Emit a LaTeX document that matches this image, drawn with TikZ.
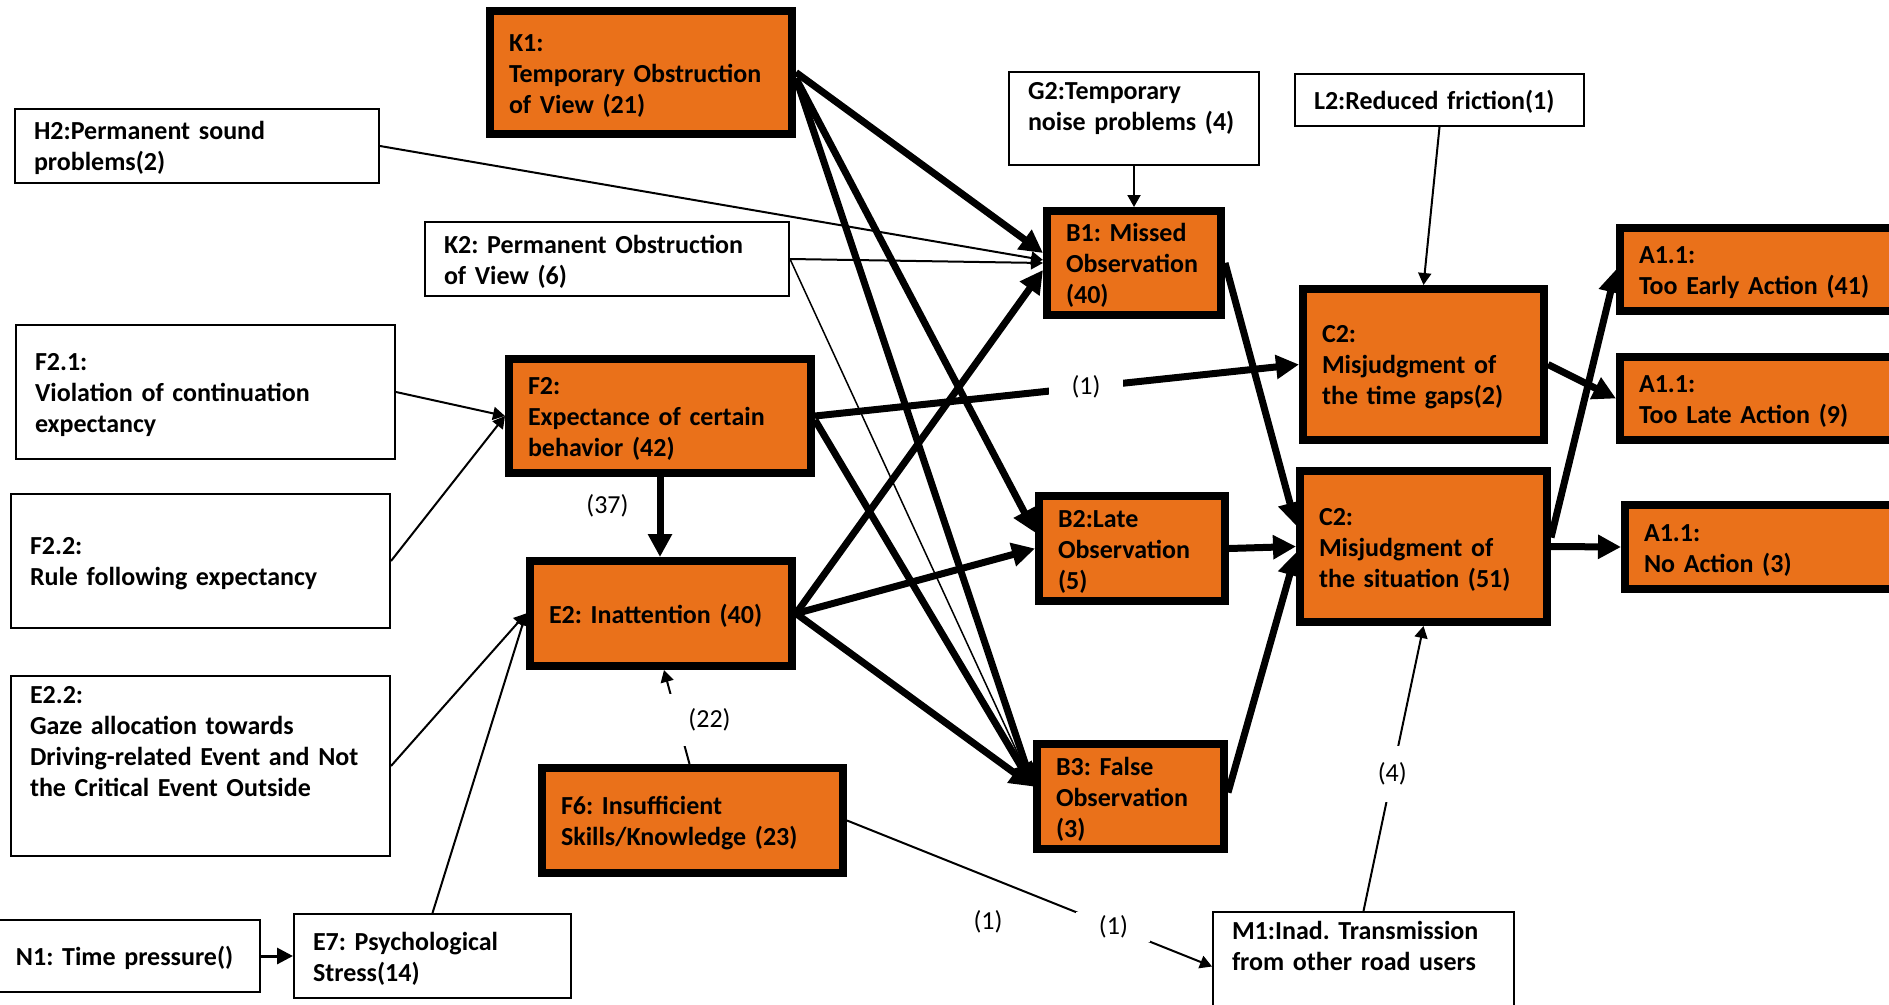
\documentclass[tikz,border=0pt]{standalone}
\usepackage{fontspec}
\setmainfont{Carlito}
\frenchspacing
\usetikzlibrary{arrows.meta,positioning}
\definecolor{boxorange}{RGB}{234,113,26}
\tikzset{every picture/.style={line width=0.75pt}}
\tikzset{
  bigbox/.style={draw, line width=8pt, fill=boxorange, align=left, inner xsep=19pt, inner ysep=4pt, font=\fontsize{26}{31}\selectfont\bfseries, execute at begin node={\rule{0pt}{23pt}}},
  smallbox/.style={draw, line width=2pt, fill=white, align=left, inner xsep=19pt, inner ysep=4pt, font=\fontsize{26}{31}\selectfont\bfseries, execute at begin node={\rule{0pt}{23pt}}},
  bigarr/.style={line width=7pt, -{Triangle[length=23pt,width=23pt]}},
  smallarr/.style={line width=2pt, -{Triangle[length=12pt,width=13pt]}},
  lbl/.style={fill=white, inner sep=2pt, font=\fontsize{26}{31}\selectfont}
}

\begin{document}
\begin{tikzpicture}[x=1pt,y=1pt,yscale=-1,xscale=1]
\useasboundingbox (0,0) rectangle (1889,1004);

%Shape: Rectangle [K1]
\node[bigbox, minimum width=302pt, minimum height=123pt, text width=264pt] (K1) at (641,72.5) {K1:\\Temporary Obstruction\\of View (21)};
%Shape: Rectangle [H2]
\node[smallbox, minimum width=364pt, minimum height=74pt, text width=326pt] (H2) at (197,146) {H2:Permanent sound\\problems(2)};
%Shape: Rectangle [K2]
\node[smallbox, minimum width=364pt, minimum height=74pt, text width=326pt] (K2) at (607,259) {K2: Permanent Obstruction\\of View (6)};
%Shape: Rectangle [G2]
\node[smallbox, minimum width=250pt, minimum height=87pt, text width=212pt] (G2) at (1134,118.5) {G2:Temporary\\noise problems (4)\\\mbox{}};
%Shape: Rectangle [L2]
\node[smallbox, minimum width=289pt, minimum height=52pt, text width=251pt] (L2) at (1439.5,100) {L2:Reduced friction(1)};
%Shape: Rectangle [B1]
\node[bigbox, minimum width=174pt, minimum height=104pt, text width=136pt] (B1) at (1134,263) {B1: Missed\\Observation\\(40)};
%Shape: Rectangle [C2 time gaps]
\node[bigbox, minimum width=241pt, minimum height=151pt, text width=203pt] (C2a) at (1423.5,364.5) {C2:\\Misjudgment of\\the time gaps(2)};
%Shape: Rectangle [A1.1 early]
\node[bigbox, minimum width=276pt, minimum height=83pt, text width=238pt] (A1e) at (1758,269.5) {A1.1:\\Too Early Action (41)};
%Shape: Rectangle [A1.1 late]
\node[bigbox, minimum width=276pt, minimum height=83pt, text width=238pt] (A1l) at (1758,398.5) {A1.1:\\Too Late Action (9)};
%Shape: Rectangle [A1.1 none]
\node[bigbox, minimum width=271pt, minimum height=84pt, text width=233pt] (A1n) at (1760.5,547) {A1.1:\\No Action (3)};
%Shape: Rectangle [F2.1]
\node[smallbox, minimum width=379pt, minimum height=134pt, text width=341pt] (F21) at (205.5,392) {F2.1:\\Violation of continuation\\expectancy};
%Shape: Rectangle [F2]
\node[bigbox, minimum width=302pt, minimum height=114pt, text width=264pt] (F2) at (660,416) {F2:\\Expectance of certain\\behavior (42)};
%Shape: Rectangle [F2.2]
\node[smallbox, minimum width=379pt, minimum height=134pt, text width=341pt] (F22) at (200.5,561) {F2.2:\\Rule following expectancy};
%Shape: Rectangle [E2]
\node[bigbox, minimum width=262pt, minimum height=105pt, text width=224pt] (E2) at (661,613.5) {E2: Inattention (40)};
%Shape: Rectangle [B2]
\node[bigbox, minimum width=186pt, minimum height=105pt, text width=148pt] (B2) at (1132,548.5) {B2:Late\\Observation\\(5)};
%Shape: Rectangle [C2 situation]
\node[bigbox, minimum width=247pt, minimum height=151pt, text width=209pt] (C2b) at (1423.5,546.5) {C2:\\Misjudgment of\\the situation (51)};
%Shape: Rectangle [E2.2]
\node[smallbox, minimum width=379pt, minimum height=172pt, text width=341pt] (E22) at (200.5,766) {E2.2:\\Gaze allocation towards\\Driving-related Event and Not\\the Critical Event Outside\\[25pt]\mbox{}};
%Shape: Rectangle [F6]
\node[bigbox, minimum width=301pt, minimum height=105pt, text width=263pt] (F6) at (692.5,820.5) {F6: Insufficient\\Skills/Knowledge (23)};
%Shape: Rectangle [B3]
\node[bigbox, minimum width=187pt, minimum height=105pt, text width=149pt] (B3) at (1130.5,796.5) {B3: False\\Observation\\(3)};
%Shape: Rectangle [N1]
\node[smallbox, minimum width=263pt, minimum height=72pt, text width=225pt] (N1) at (128.5,956) {N1: Time pressure()};
%Shape: Rectangle [E7]
\node[smallbox, minimum width=277pt, minimum height=84pt, text width=239pt] (E7) at (432.5,956) {E7: Psychological\\Stress(14)};
%Shape: Rectangle [M1]
\node[smallbox, minimum width=301pt, minimum height=97pt, text width=263pt] (M1) at (1363.5,966.5) {M1:Inad. Transmission\\from other road users\\[16pt]\mbox{}};

%Straight Lines [into B1, B2, B3]
\draw[bigarr] (K1.east) -- ([yshift=-10pt]B1.west);
\draw[bigarr] ([yshift=6pt]K1.east) -- ([yshift=-16pt]B2.west);
\draw[bigarr] ([yshift=6pt]K1.east) -- ([yshift=-10pt]B3.west);
\draw[smallarr] (H2.east) -- ([yshift=-3pt]B1.west);
\draw[smallarr] (K2.east) -- (B1.west);
\draw[smallarr, line width=1.5pt] (K2.east) -- ([yshift=-10pt]B3.west);
\draw[smallarr] (G2.south) -- (B1.north);
\draw[bigarr] ([yshift=4pt]F2.east) -- ([yshift=-10pt]B3.west);
\draw[bigarr] (E2.east) -- ([yshift=7pt]B1.west);
\draw[bigarr] (E2.east) -- (B2.west);
\draw[bigarr] (E2.east) -- ([yshift=-10pt]B3.west);

%Straight Lines [into F2, E2]
\draw[smallarr] (F21.east) -- (F2.west);
\draw[smallarr] (F22.east) -- (F2.west);
\draw[bigarr] (F2.south) -- node[lbl, pos=0.36, left=26pt] {(37)} (F2.south |- E2.north);
\draw[smallarr] (E22.east) -- (E2.west);
\draw[smallarr] (E7.north) -- (E2.west);
\draw[line width=3pt, -{Triangle[length=16pt,width=16pt]}] (N1.east) -- (E7.west);
\draw[smallarr] ([xshift=-3pt]F6.north) -- node[lbl, pos=0.47, xshift=32pt, minimum width=86pt, minimum height=52pt] {(22)} ([xshift=3pt]E2.south);

%Straight Lines [into C2, M1]
\draw[bigarr] (F2.east) -- node[lbl, pos=0.56, minimum width=74pt, minimum height=30pt] {(1)} (C2a.west);
\draw[smallarr] (L2.south) -- (C2a.north);
\draw[smallarr] (F6.east) -- node[lbl, pos=0.73, minimum width=74pt, minimum height=30pt] {(1)} (M1.west);
\draw[smallarr] (M1.north) -- node[lbl, pos=0.48, minimum width=36pt, minimum height=56pt] {(4)} (C2b.south);
\draw[bigarr] (B1.east) -- ([yshift=-21pt]C2b.west);
\draw[bigarr] (B2.east) -- (C2b.west);
\draw[bigarr] ([yshift=-4pt]B3.east) -- ([yshift=6pt]C2b.west);

%Straight Lines [into A1.1]
\draw[bigarr] (C2a.east) -- (A1l.west);
\draw[bigarr] ([yshift=-9pt]C2b.east) -- (A1e.west);
\draw[bigarr] (C2b.east) -- (A1n.west);

% Text Node
\node[lbl] (free1) at (988,922) {(1)};

\end{tikzpicture}
\end{document}
